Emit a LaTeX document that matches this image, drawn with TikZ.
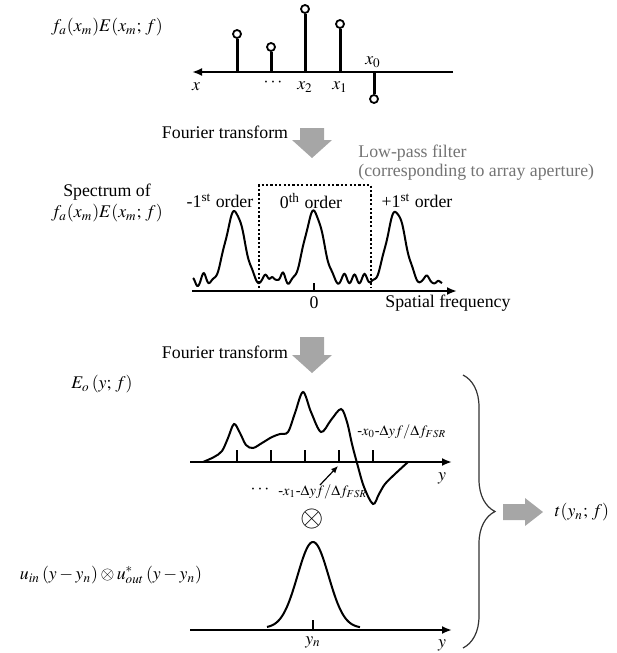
\documentclass[tikz,border=0pt]{standalone}
\usepackage{mathptmx}
\usepackage[no-math]{fontspec}
\setmainfont{Liberation Serif}
\usetikzlibrary{arrows.meta,decorations.pathreplacing}

\tikzset{
  txt/.style={font=\fontsize{8.9}{10.5}\selectfont, inner sep=0pt},
  smalltxt/.style={font=\fontsize{7.2}{8.5}\selectfont, inner sep=0pt},
  axisline/.style={line width=1pt, -{Latex[length=5pt,width=4pt]}},
  stem/.style={line width=1.5pt},
  tipcirc/.style={draw, line width=0.9pt, fill=white, circle, minimum size=4pt, inner sep=0pt},
  bigarrow/.style={fill=black!35, draw=none},
  curve/.style={line width=1pt},
}

\begin{document}
\begin{tikzpicture}[x=0.5pt, y=-0.5pt,
  declare function={pk(\u)=74*exp(max(-20,-(\u/13.5)*(\u/13.5)))
    +11*exp(max(-20,-((abs(\u)-31)/3.5)*((abs(\u)-31)/3.5)))
    +6*exp(max(-20,-((abs(\u)-42)/3)*((abs(\u)-42)/3)));}]
\useasboundingbox (0,0) rectangle (616,653);

% sampled field along the array
\node[txt] (lblA) at (107,27) {$f_a(x_m)E(x_m;\,f)$};
\draw[axisline] (453,72) -- (192,72);
\foreach \xs/\ys [count=\i] in {237/34, 271/47, 305/9, 340/24, 374/99} {
  \coordinate (b\i) at (\xs,72);
  \node[tipcirc] (s\i) at (\xs,\ys) {};
  \draw[stem] (b\i) -- (s\i);
}
\node[txt] (xax) at (196,87) {$x$};
\node[txt] (dots) at (273,83) {$\cdots$};
\node[txt] (x2) at (305,87) {$x_2$};
\node[txt] (x1) at (340,87) {$x_1$};
\node[txt] (x0) at (373,62) {$x_0$};

% first transform
\node[txt] (ft1) at (225,132) {Fourier transform};
\fill[bigarrow] (300,128) -- (324,128) -- (324,140) -- (332,140) -- (312,158)
  -- (292,140) -- (300,140) -- cycle;
\node[txt, anchor=west, text=black!55] (lpf) at (358,153) {Low-pass filter};
\node[txt, anchor=west, text=black!55] (lpf2) at (358,172) {(corresponding to array aperture)};

% spectrum
\node[txt] (lblB) at (107,192) {Spectrum of};
\node[txt] (lblB2) at (107,213) {$f_a(x_m)E(x_m;\,f)$};
\node[txt] (om1) at (220,201) {-1\textsuperscript{st} order};
\node[txt] (o0) at (311,201) {0\textsuperscript{th} order};
\node[txt] (op1) at (417,201) {+1\textsuperscript{st} order};
\draw[line width=1.1pt, dash pattern=on 1.1pt off 1.1pt] (259,288) -- (259,185) -- (371,185) -- (371,288);
\draw[axisline] (192,291) -- (457,291);
\draw[line width=1pt] (314,283) -- (314,291);
\node[txt] (zero) at (314,303) {0};
\node[txt, anchor=west] (sf) at (385,303) {Spatial frequency};
\draw[curve] plot[domain=193:442, samples=300]
  (\x, {287 - pk(\x-235) - pk(\x-314) - pk(\x-396) - 1.5*(1+sin(36*\x))});

% second transform
\node[txt] (ft2) at (225,352) {Fourier transform};
\fill[bigarrow] (300,337) -- (324,337) -- (324,355) -- (332,355) -- (312,373)
  -- (292,355) -- (300,355) -- cycle;

% output field
\node[txt] (lblC) at (102,384) {$E_o\left(y;\,f\right)$};
\draw[axisline] (190,462) -- (452,462);
\foreach \xs [count=\i] in {237,271,305,339,373}
  \draw[line width=1pt] (\xs,462) -- (\xs,450) coordinate (t\i);
\draw[curve] plot[smooth, tension=0.55] coordinates {(203,462) (214,457) (222,451)
  (228,438) (234,424) (240,433) (246,445) (253,448) (262,443) (272,437) (280,434)
  (288,432) (295,413) (303,392) (311,412) (321,432) (331,420) (341,409) (347,422)
  (352,444) (357,463) (364,487) (373,504) (379,494) (385,484) (395,474) (408,462)};
\node[txt] (ymid) at (442,478) {$y$};
\node[smalltxt, anchor=west] (lblx0) at (357,432) {-$x_0$-$\Delta yf/\Delta f_{FSR}$};
\node[txt] (dots2) at (260,490) {$\cdots$};
\node[smalltxt, anchor=west] (lblx1) at (278,492) {-$x_1$-$\Delta yf/\Delta f_{FSR}$};
\coordinate (p1) at (320,485);
\coordinate (p2) at (338,466);
\draw[line width=0.6pt, -{Latex[length=3.5pt,width=3pt]}] (p1) -- (p2);

\node[font=\fontsize{15}{15}\selectfont, inner sep=0pt] (conv) at (312,519) {$\otimes$};

% mode overlap
\node[txt] (lblD) at (111,575) {$u_{in}\left(y-y_n\right)\otimes u^{*}_{out}\left(y-y_n\right)$};
\draw[axisline] (190,630) -- (452,630);
\draw[line width=1pt] (313,620) -- (313,630);
\draw[curve] plot[domain=267:360, samples=120]
  (\x, {628 - 86*exp(-((\x-313)/22)*((\x-313)/22))});
\node[txt] (yn) at (313,642) {$y_n$};
\node[txt] (ybot) at (442,645) {$y$};

% result
\coordinate (brtop) at (463,375);
\coordinate (brbot) at (463,648);
\draw[line width=0.6pt, black!80, decorate, decoration={brace, amplitude=16pt}] (brtop) -- (brbot);
\fill[bigarrow] (503,504) -- (525,504) -- (525,498) -- (543,512) -- (525,526)
  -- (525,520) -- (503,520) -- cycle;
\node[txt] (res) at (582,512) {$t(y_n;\,f)$};
\end{tikzpicture}
\end{document}
